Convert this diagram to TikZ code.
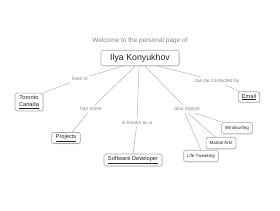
\documentclass[tikz,border=0pt]{standalone}
\usepackage{fontspec}
\setmainfont{Liberation Sans}
\usetikzlibrary{shadows}
\definecolor{linegray}{HTML}{B4B4B4}
\definecolor{labelgray}{HTML}{858585}
\definecolor{boxgray}{HTML}{A8A8A8}
\tikzset{
  box/.style={draw=boxgray, fill=white, rounded corners=1.5pt, line width=0.6pt,
    drop shadow={shadow xshift=0.5pt, shadow yshift=-0.7pt, opacity=0.25},
    text=black!85, inner xsep=4pt, inner ysep=0pt, minimum height=11pt},
  linkbox/.style={box, font=\fontsize{5.7}{6.8}\selectfont},
  hobbybox/.style={box, font=\fontsize{4.5}{5.4}\selectfont, minimum height=11.5pt, inner xsep=3.5pt},
  rel/.style={text=labelgray, font=\fontsize{5}{6}\selectfont, inner sep=1.5pt},
  link/.style={draw=linegray, line width=0.5pt}
}
\begin{document}
\begin{tikzpicture}[x=1pt, y=-1pt]
  \useasboundingbox (0,0) rectangle (280,210);
  % heading and the centre box
  \node[text=labelgray, font=\fontsize{6.5}{7.8}\selectfont] (welcome) at (140,41) {Welcome to the personal page of};
  \node[box, font=\fontsize{8.8}{10}\selectfont, minimum width=78pt, minimum height=15.5pt] (me) at (140,58) {Ilya Konyukhov};
  % relation labels
  \node[rel] (livesin) at (80,79) {lives in};
  \node[rel] (hassome) at (91,109) {has some};
  \node[rel] (knownas) at (137,123) {is known as a};
  \node[rel] (enjoys) at (187,109) {also enjoys};
  \node[rel] (contact) at (217,81) {can be contacted by};
  % targets
  \node[linkbox, align=center, inner ysep=2.5pt] (city) at (29,102) {Toronto\\\underline{Canada}};
  \node[linkbox] (projects) at (66,138) {\underline{Projects}};
  \node[linkbox, minimum height=12pt] (dev) at (133,160) {\underline{Software Developer}};
  \node[linkbox, minimum height=10.5pt, inner xsep=3.5pt] (email) at (249,97) {\underline{Email}};
  \node[hobbybox] (wind) at (237,128) {Windsurfing};
  \node[hobbybox] (martial) at (221,143) {Martial Arts};
  \node[hobbybox] (tweak) at (201,156) {Life Tweaking};
  % connectors
  \draw[link] ([xshift=-17pt]me.south) -- (livesin) -- (city.north east);
  \draw[link] ([xshift=-5pt]me.south) -- (hassome) -- ([xshift=6pt]projects.north);
  \draw[link] ([xshift=-1pt]me.south) -- (knownas) -- (dev.north);
  \draw[link] ([xshift=5pt]me.south) -- (enjoys);
  \draw[link] ([xshift=18pt]me.south) -- (contact) -- ([xshift=-9pt]email.north);
  \draw[link] ([xshift=-2pt]enjoys.south) -- (tweak.north);
  \draw[link] ([xshift=1pt]enjoys.south) -- ([xshift=-6pt]martial.north);
  \draw[link] ([xshift=8pt]enjoys.south) -- (wind.north west);
\end{tikzpicture}
\end{document}
